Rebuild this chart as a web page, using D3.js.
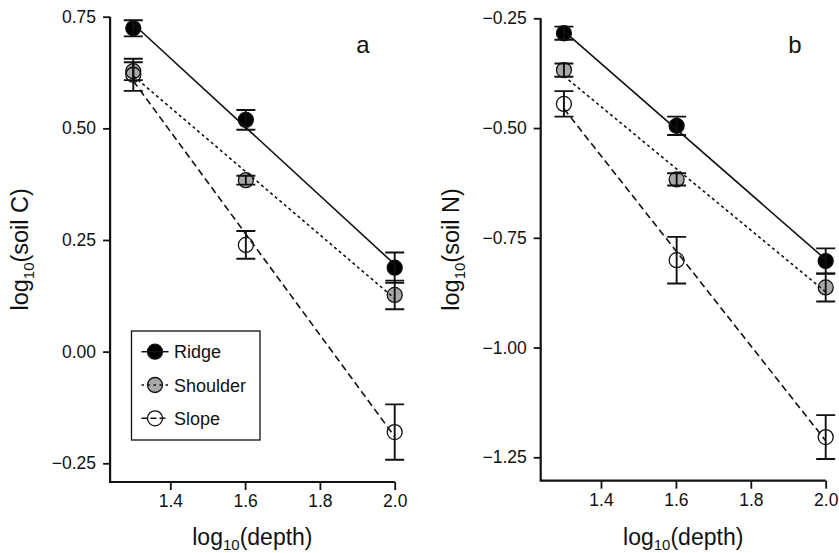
<!DOCTYPE html>
<html><head><meta charset="utf-8">
<script src="https://cdn.jsdelivr.net/npm/d3@7"></script>
<style>
body{margin:0;background:#fff;}
svg{display:block;font-family:"Liberation Sans",Arial,Helvetica,sans-serif;}
</style></head>
<body><svg id="c" width="839" height="553"></svg>
<script>
// ---- data ----
const depthX = [1.301, 1.602, 2.0];           // log10(depth) for 20, 40, 100 cm
const seriesNames = ["Ridge", "Shoulder", "Slope"];
const xTicks = [1.4, 1.6, 1.8, 2.0];

// panel a: log10(soil C)
const carbonRidge    = [0.724, 0.519, 0.188];
const carbonRidgeSE  = [0.018, 0.022, 0.034];
const carbonShoulder   = [0.628, 0.384, 0.127];
const carbonShoulderSE = [0.020, 0.010, 0.032];
const carbonSlope    = [0.620, 0.239, -0.180];
const carbonSlopeSE  = [0.036, 0.031, 0.062];
const carbonTicks = [-0.25, 0.00, 0.25, 0.50, 0.75];

// panel b: log10(soil N)
const nitrogenRidge    = [-0.284, -0.495, -0.803];
const nitrogenRidgeSE  = [0.015, 0.021, 0.029];
const nitrogenShoulder   = [-0.368, -0.617, -0.863];
const nitrogenShoulderSE = [0.015, 0.014, 0.032];
const nitrogenSlope    = [-0.445, -0.801, -1.204];
const nitrogenSlopeSE  = [0.029, 0.053, 0.050];
const nitrogenTicks = [-1.25, -1.00, -0.75, -0.50, -0.25];

// ---- styles ----
const styles = {
  Ridge:    {fill:"#000",    dash:null},
  Shoulder: {fill:"#a8a8a8", dash:"3,3"},
  Slope:    {fill:"none",    dash:"7,4"}
};
const fmt = v => d3.format(".2f")(v).replace("-", "\u2212");

const svg = d3.select("#c");

function fit(xs, ys){
  const mx = d3.mean(xs), my = d3.mean(ys);
  let sxy = 0, sxx = 0;
  xs.forEach((x,i)=>{ sxy += (x-mx)*(ys[i]-my); sxx += (x-mx)*(x-mx); });
  const b = sxy/sxx, a = my - b*mx;
  return x => a + b*x;
}

function panel(opt){
  const g = svg.append("g");
  const x = d3.scaleLinear().domain([1.4, 2.0]).range(opt.xr);
  const y = d3.scaleLinear().domain([opt.ticks[0], opt.ticks[opt.ticks.length-1]]).range(opt.yr);
  const left = x(1.239), bottom = opt.bottom;

  // axes
  const xa = g.append("g").attr("transform", `translate(0,${bottom})`)
    .call(d3.axisBottom(x).tickValues(xTicks).tickFormat(d3.format(".1f")).tickSize(8).tickPadding(5).tickSizeOuter(0));
  xa.select(".domain").remove();
  xa.selectAll("line").attr("stroke","#111").attr("stroke-width",1.8);
  xa.selectAll("text").attr("font-size",17.5).attr("fill","#111").attr("font-family","Liberation Sans, Arial, sans-serif");
  const ya = g.append("g").attr("transform", `translate(${left},0)`)
    .call(d3.axisLeft(y).tickValues(opt.ticks).tickFormat(fmt).tickSize(7).tickPadding(7).tickSizeOuter(0));
  ya.select(".domain").remove();
  ya.selectAll("line").attr("stroke","#111").attr("stroke-width",1.8);
  ya.selectAll("text").attr("font-size",17.5).attr("fill","#111").attr("font-family","Liberation Sans, Arial, sans-serif");
  g.append("path")
    .attr("d", `M${left},${y(opt.ticks[opt.ticks.length-1])}V${bottom}H${x(2.0)}`)
    .attr("fill","none").attr("stroke","#111").attr("stroke-width",2.2);

  // points
  opt.series.forEach(s=>{
    const st = styles[s.name];
    g.selectAll(null).data(s.v).enter().append("circle")
      .attr("cx",(d,i)=>x(depthX[i])).attr("cy",d=>y(d)).attr("r",7.5)
      .attr("fill",st.fill).attr("stroke","#111").attr("stroke-width",1.3);
  });
  // error bars
  opt.series.forEach(s=>{
    s.v.forEach((d,i)=>{
      const cx = x(depthX[i]), y1 = y(d + s.se[i]), y2 = y(d - s.se[i]);
      g.append("path")
        .attr("d", `M${cx-9.5},${y1}H${cx+9.5}M${cx},${y1}V${y2}M${cx-9.5},${y2}H${cx+9.5}`)
        .attr("fill","none").attr("stroke","#111").attr("stroke-width",1.9);
    });
  });
  // regression lines
  opt.series.forEach(s=>{
    const f = fit(depthX, s.v), st = styles[s.name];
    g.append("line")
      .attr("x1",x(depthX[0])).attr("y1",y(f(depthX[0])))
      .attr("x2",x(depthX[2])).attr("y2",y(f(depthX[2])))
      .attr("stroke","#111").attr("stroke-width",1.6)
      .attr("stroke-dasharray",st.dash);
  });

  // axis titles
  const xt = g.append("text").attr("x",(left + x(2.0))/2).attr("y",545)
    .attr("text-anchor","middle").attr("font-size",23).attr("fill","#111");
  xt.append("tspan").text("log");
  xt.append("tspan").attr("font-size",15).attr("dy",5).text("10");
  xt.append("tspan").attr("dy",-5).text("(depth)");

  const cy = (y(opt.ticks[opt.ticks.length-1]) + bottom)/2;
  const yt = g.append("text").attr("transform",`translate(${opt.ytx},${cy}) rotate(-90)`)
    .attr("text-anchor","middle").attr("font-size",23.5).attr("fill","#111");
  yt.append("tspan").text("log");
  yt.append("tspan").attr("font-size",15).attr("dy",6).text("10");
  yt.append("tspan").attr("dy",-6).text(opt.ylab);

  g.append("text").attr("x",opt.letter[0]).attr("y",opt.letter[1])
    .attr("font-size",24).attr("fill","#111").attr("text-anchor","middle").text(opt.letterText);
  return g;
}

panel({xr:[170.3,394.7], yr:[463.3,16.7], bottom:482, ticks:carbonTicks, ytx:28, ylab:"(soil C)",
  letter:[363,52.5], letterText:"a",
  series:[{name:"Ridge",v:carbonRidge,se:carbonRidgeSE},
          {name:"Shoulder",v:carbonShoulder,se:carbonShoulderSE},
          {name:"Slope",v:carbonSlope,se:carbonSlopeSE}]});
panel({xr:[601,825.7], yr:[457.3,18.3], bottom:480.7, ticks:nitrogenTicks, ytx:459, ylab:"(soil N)",
  letter:[795,52.5], letterText:"b",
  series:[{name:"Ridge",v:nitrogenRidge,se:nitrogenRidgeSE},
          {name:"Shoulder",v:nitrogenShoulder,se:nitrogenShoulderSE},
          {name:"Slope",v:nitrogenSlope,se:nitrogenSlopeSE}]});

// legend
const lg = svg.append("g");
lg.append("rect").attr("x",131.5).attr("y",331).attr("width",128.5).attr("height",109)
  .attr("fill","#fff").attr("stroke","#111").attr("stroke-width",1.3);
seriesNames.forEach((n,i)=>{
  const yy = 351.7 + i*33.3, st = styles[n];
  lg.append("circle").attr("cx",155).attr("cy",yy).attr("r",7.5)
    .attr("fill",st.fill).attr("stroke","#111").attr("stroke-width",1.3);
  lg.append("line").attr("x1",141.5).attr("x2",168.5).attr("y1",yy).attr("y2",yy)
    .attr("stroke","#111").attr("stroke-width",1.5).attr("stroke-dasharray",n==="Shoulder"?"2.5,3.5":(n==="Slope"?"6,3":null));
  lg.append("text").attr("x",174).attr("y",yy+6.5).attr("font-size",18).attr("fill","#111").text(n);
});
</script></body></html>
